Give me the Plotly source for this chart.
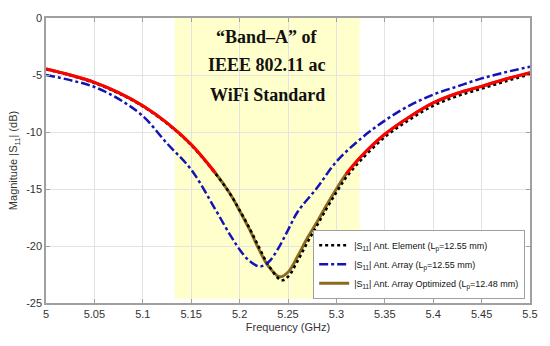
import plotly.graph_objects as go

# ---------------- data ----------------
freq_opt = [5.00, 5.025, 5.05, 5.075, 5.10, 5.125, 5.15, 5.175, 5.19, 5.20, 5.21, 5.22, 5.23,
            5.2415, 5.25, 5.26, 5.27, 5.28, 5.29, 5.30, 5.31, 5.325, 5.35, 5.375, 5.40, 5.425,
            5.45, 5.475, 5.50]
s11_opt = [-4.47, -5.0, -5.65, -6.55, -7.7, -9.2, -11.1, -13.6, -15.4, -16.9, -18.5, -20.3, -21.8,
           -22.7, -22.3, -20.9, -19.3, -17.9, -16.4, -15.0, -13.7, -12.2, -10.2, -8.7, -7.45, -6.6,
           -6.0, -5.35, -4.79]

freq_elem = [5.00, 5.025, 5.05, 5.075, 5.10, 5.125, 5.15, 5.175, 5.19, 5.20, 5.21, 5.22, 5.23,
             5.243, 5.25, 5.26, 5.27, 5.28, 5.29, 5.30, 5.31, 5.325, 5.35, 5.375, 5.40, 5.425,
             5.45, 5.475, 5.50]
s11_elem = [-4.5, -5.03, -5.7, -6.6, -7.75, -9.25, -11.15, -13.65, -15.4, -16.85, -18.4, -20.1, -21.7,
            -23.0, -22.7, -21.3, -19.7, -18.2, -16.7, -15.3, -14.0, -12.5, -10.45, -8.95, -7.7, -6.85,
            -6.2, -5.55, -4.95]

freq_arr = [5.00, 5.025, 5.05, 5.075, 5.10, 5.125, 5.15, 5.175, 5.19, 5.20, 5.21, 5.221, 5.23,
            5.24, 5.25, 5.26, 5.28, 5.30, 5.325, 5.35, 5.375, 5.40, 5.425, 5.45, 5.475, 5.50]
s11_arr = [-4.99, -5.45, -6.05, -7.1, -8.6, -11.0, -13.3, -16.8, -19.0, -20.3, -21.3, -21.8, -21.4,
           -20.2, -18.6, -17.0, -14.9, -12.6, -10.6, -9.0, -7.7, -6.72, -6.0, -5.3, -4.75, -4.27]

band = [5.133, 5.324]           # highlighted band (GHz)
red_split = [5.178, 5.308]      # where the red overlay of the optimized curve stops/starts

band_text = ["“Band–A” of", "IEEE 802.11 ac", "WiFi Standard"]
band_text_y = [-1.64, -4.15, -6.75]

x_ticks = [5, 5.05, 5.1, 5.15, 5.2, 5.25, 5.3, 5.35, 5.4, 5.45, 5.5]
x_tick_text = ["5", "5.05", "5.1", "5.15", "5.2", "5.25", "5.3", "5.35", "5.4", "5.45", "5.5"]
y_ticks = [0, -5, -10, -15, -20, -25]
y_tick_text = ["0", "-5", "-10", "-15", "-20", "-25"]

names = ["|S<sub>11</sub>| Ant. Element (L<sub>p</sub>=12.55 mm)",
         "|S<sub>11</sub>| Ant. Array (L<sub>p</sub>=12.55 mm)",
         "|S<sub>11</sub>| Ant. Array Optimized (L<sub>p</sub>=12.48 mm)"]

# ---------------- figure ----------------
fig = go.Figure()

fig.add_trace(go.Scatter(x=freq_opt, y=s11_opt, mode="lines", name=names[2],
                         line=dict(color="#8A6A1C", width=3, shape="spline"), legendrank=3))
fig.add_trace(go.Scatter(x=freq_elem, y=s11_elem, mode="lines", name=names[0],
                         line=dict(color="black", width=2.5, dash="dot", shape="spline"), legendrank=1))

# red overlay of optimized curve outside the band region
red_left_x = [f for f in freq_opt if f <= red_split[0]]
red_left_y = [v for f, v in zip(freq_opt, s11_opt) if f <= red_split[0]]
red_right_x = [f for f in freq_opt if f >= red_split[1] - 0.001]
red_right_y = [v for f, v in zip(freq_opt, s11_opt) if f >= red_split[1] - 0.001]
fig.add_trace(go.Scatter(x=red_left_x, y=red_left_y, mode="lines", showlegend=False,
                         line=dict(color="#FF0000", width=3, shape="spline")))
fig.add_trace(go.Scatter(x=red_right_x, y=red_right_y, mode="lines", showlegend=False,
                         line=dict(color="#FF0000", width=3, shape="spline")))

fig.add_trace(go.Scatter(x=freq_arr, y=s11_arr, mode="lines", name=names[1],
                         line=dict(color="#1414B4", width=2.5, dash="dashdot", shape="spline"),
                         legendrank=2))

fig.add_shape(type="rect", xref="x", yref="y", x0=band[0], x1=band[1], y0=-24.65, y1=0,
              fillcolor="rgb(255,255,204)", line=dict(width=0), layer="below")

for txt, ty in zip(band_text, band_text_y):
    fig.add_annotation(x=(band[0] + band[1]) / 2, y=ty, xref="x", yref="y",
                       text="<b>" + txt + "</b>",
                       showarrow=False, yanchor="middle", xanchor="center", align="center",
                       font=dict(family="Liberation Serif, serif", size=18, color="#111111"))

axis_common = dict(showgrid=True, gridcolor="#E3E3E3", gridwidth=1, zeroline=False,
                   showline=True, linecolor="#A0A0A0", linewidth=1.5, mirror="ticks",
                   ticks="inside", ticklen=4, tickcolor="#A0A0A0",
                   tickfont=dict(family="Liberation Sans, Arial", size=11, color="#333333"))

fig.update_xaxes(range=[5, 5.5], tickvals=x_ticks, ticktext=x_tick_text,
                 title=dict(text="Frequency (GHz)", standoff=4,
                            font=dict(family="Liberation Sans, Arial", size=11, color="#333333")),
                 **axis_common)
fig.update_yaxes(range=[-25, 0], tickvals=y_ticks, ticktext=y_tick_text,
                 title=dict(text="Magnitude |S<sub>11</sub>| (dB)", standoff=6,
                            font=dict(family="Liberation Sans, Arial", size=11, color="#333333")),
                 **axis_common)

fig.update_layout(
    width=550, height=346,
    margin=dict(l=45, r=15, t=14, b=43),
    plot_bgcolor="white", paper_bgcolor="white",
    showlegend=True,
    legend=dict(x=0.99, y=0.015, xanchor="right", yanchor="bottom",
                bgcolor="white", bordercolor="#A0A0A0", borderwidth=1,
                font=dict(family="Liberation Sans, Arial", size=9, color="#111111"),
                tracegroupgap=0, itemwidth=30),
)

# remove the default 8px page margin so the figure sits at the window's corner
fig.write_html("out.html", config={"displayModeBar": False},
               post_script="document.body.style.margin='0';")
